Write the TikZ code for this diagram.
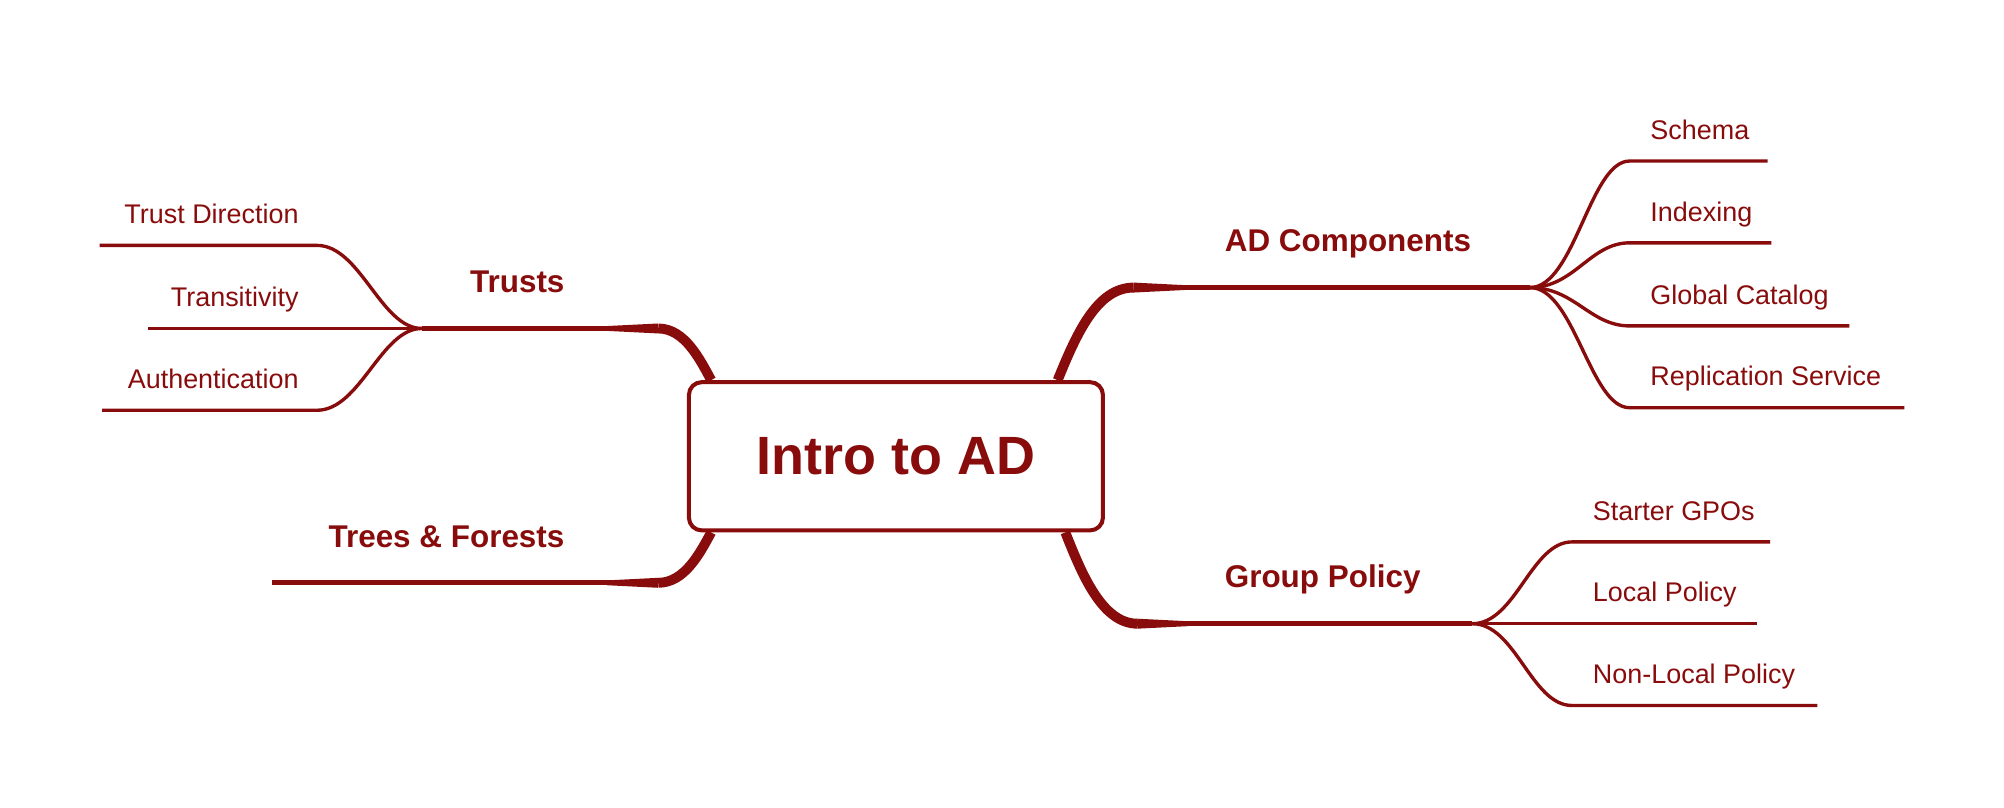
\documentclass[tikz,border=0pt]{standalone}
\usepackage{fontspec}
\setmainfont{Liberation Sans}
\usetikzlibrary{calc,backgrounds}
\definecolor{adred}{RGB}{137,12,12}
\tikzset{
  rootbox/.style={draw=adred, line width=1.8pt, rounded corners=0.2cm, fill=white,
    minimum width=6.48cm, minimum height=2.32cm, text=adred,
    font=\bfseries\fontsize{24}{29}\selectfont},
  topic/.style={text=adred, inner sep=0pt, font=\bfseries\fontsize{14}{17}\selectfont},
  leaf/.style={text=adred, inner sep=0pt, font=\fontsize{12}{14}\selectfont},
  stem/.style={draw=adred, line width=4.4pt},
  mainbranch/.style={draw=adred, line width=2.2pt},
  twig/.style={draw=adred, line width=1.5pt},
}
\begin{document}
\begin{tikzpicture}[x=0.02cm,y=-0.02cm]
   \useasboundingbox (0,0) rectangle (1568,632);
   \node[rootbox] (root) at (701,357) {Intro to AD};

   \coordinate (trustsbend) at (515,257);
   \coordinate (trustsfork) at (330,257);
   \coordinate (treesbend) at (515,456);
   \coordinate (treesend) at (213,456);
   \coordinate (adbend) at (887,225);
   \coordinate (adfork) at (1197,225);
   \coordinate (gpbend) at (890,488);
   \coordinate (gpfork) at (1152,488);

   \begin{scope}[on background layer]
   \draw[stem] ($(root.north west)+(19,0)$) .. controls (548,282) and (536,257) .. (trustsbend);
   \draw[stem] ($(root.south west)+(19,0)$) .. controls (548,432) and (536,456) .. (treesbend);
   \draw[stem] ($(root.north east)+(-37,0)$) .. controls (842,262) and (858,225) .. (adbend);
   \draw[stem] ($(root.south east)+(-31,0)$) .. controls (846,448) and (862,488) .. (gpbend);
   \end{scope}
   \foreach \b/\d in {trustsbend/-1, treesbend/-1, adbend/1, gpbend/1}
   {
       \fill[adred] ($(\b)+(0,-3.9)$) -- ($(\b)+(40*\d,-1.9)$) -- ($(\b)+(40*\d,1.9)$) -- ($(\b)+(0,3.9)$) -- cycle;
   }
   \draw[mainbranch] (trustsbend) -- (trustsfork);
   \draw[mainbranch] (treesbend) -- (treesend);
   \draw[mainbranch] (adbend) -- (adfork);
   \draw[mainbranch] (gpbend) -- (gpfork);

   \node[topic, anchor=base east] (trusts) at (442,229) {Trusts};
   \node[topic, anchor=base east] (trees) at (442,428) {Trees \& Forests};
   \node[topic, anchor=base west] (adcomp) at (958,197) {AD Components};
   \node[topic, anchor=base west] (gpolicy) at (958,460) {Group Policy};

   \foreach \n/\y/\x/\txt in {direction/192/78/Trust Direction, transitivity/257/116/Transitivity, authentication/321/80/Authentication}
   {
       \coordinate (\n start) at (248,\y);
       \coordinate (\n end) at (\x,\y);
       \draw[twig] (trustsfork) .. controls (298,257) and (282,\y) .. (\n start) -- (\n end);
       \node[leaf, anchor=base east] (\n) at (234,\y-17) {\txt};
   }

   \foreach \n/\y/\x/\txt in {schema/126/1383/Schema, indexing/190/1386/Indexing, catalog/255/1447/Global Catalog, replication/319/1490/Replication Service}
   {
       \coordinate (\n start) at (1275,\y);
       \coordinate (\n end) at (\x,\y);
       \draw[twig] (adfork) .. controls (1232,225) and (1244,\y) .. (\n start) -- (\n end);
       \node[leaf, anchor=base west] (\n) at (1291,\y-17) {\txt};
   }

   \foreach \n/\y/\x/\txt in {starter/424/1385/Starter GPOs, local/488/1375/Local Policy, nonlocal/552/1422/Non-Local Policy}
   {
       \coordinate (\n start) at (1230,\y);
       \coordinate (\n end) at (\x,\y);
       \draw[twig] (gpfork) .. controls (1186,488) and (1198,\y) .. (\n start) -- (\n end);
       \node[leaf, anchor=base west] (\n) at (1246,\y-17) {\txt};
   }
\end{tikzpicture}
\end{document}
